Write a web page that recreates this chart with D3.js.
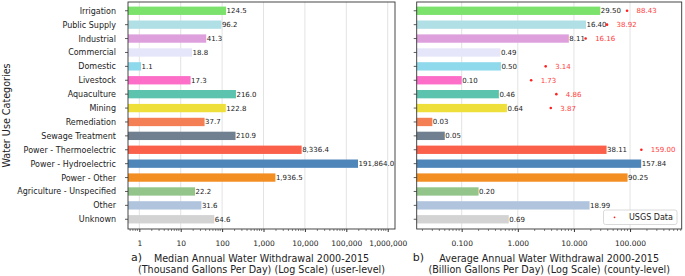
<!DOCTYPE html>
<html>
<head>
<meta charset="utf-8">
<script src="https://cdn.jsdelivr.net/npm/d3@7"></script>
<style>
  body { margin: 0; background: #fff; }
  svg { display: block; font-family: "DejaVu Sans", sans-serif; }
</style>
</head>
<body>
<svg id="main" width="685" height="276"></svg>
<script>
// chart data
const categories = ['Irrigation', 'Public Supply', 'Industrial', 'Commercial', 'Domestic', 'Livestock',
  'Aquaculture', 'Mining', 'Remediation', 'Sewage Treatment', 'Power - Thermoelectric',
  'Power - Hydroelectric', 'Power - Other', 'Agriculture - Unspecified', 'Other', 'Unknown'];
const medianUser = [124.5, 96.2, 41.3, 18.8, 1.1, 17.3, 216.0, 122.8, 37.7, 210.9, 8336.4, 191864.0, 1936.5, 22.2, 31.6, 64.6];
const avgCounty = [29.50, 16.40, 8.11, 0.49, 0.50, 0.10, 0.46, 0.64, 0.03, 0.05, 38.11, 157.84, 90.25, 0.20, 18.99, 0.69];
const usgsData = [88.43, 38.92, 16.16, null, 3.14, 1.73, 4.86, 3.87, null, null, 159.00, null, null, null, null, null];
const leftTicks = [1, 10, 100, 1000, 10000, 100000, 1000000];
const rightTicks = [0.1, 1, 10, 100];

// bar colours, one per category
const colors = ['#7be26c', '#b0e0e6', '#dda0dd', '#e6e6fa', '#8fd9ec', '#fc6ec8',
  '#5cc4ae', '#eedf3a', '#f47f55', '#708090', '#fa604a',
  '#4f86ba', '#f28e22', '#93c58b', '#b0c4de', '#d3d3d3'];

const svg = d3.select('#main');
const plotTop = 2, plotBottom = 229;

// rows: index -> y
let y = d3.scaleLinear().domain([-0.63, 15.7]).range([plotTop, plotBottom]);
const rowStep = y(1) - y(0);
const barH = rowStep * 0.6;

function panel(opts) {
  let g = svg.append('g');
  let x = d3.scaleLog().domain(opts.domain).range([opts.x0, opts.x1]);

  // grid
  g.selectAll('.grid').data(opts.ticks).join('line')
    .attr('x1', d => x(d)).attr('x2', d => x(d))
    .attr('y1', plotTop).attr('y2', plotBottom)
    .style('stroke', '#e3e3e3').style('stroke-width', 1);

  // bars
  g.selectAll('.bar').data(opts.values).join('rect')
    .attr('x', opts.x0)
    .attr('y', (d, i) => y(i) - barH / 2)
    .attr('width', d => x(d) - opts.x0)
    .attr('height', barH)
    .style('fill', (d, i) => colors[i]);

  // bar labels
  g.selectAll('.val').data(opts.values).join('text')
    .attr('x', d => x(d) + 0.5)
    .attr('y', (d, i) => y(i) + 2.5)
    .style('font-size', '7px')
    .style('fill', '#222')
    .text(opts.fmt);

  // y ticks
  g.selectAll('.yt').data(categories).join('line')
    .attr('x1', opts.x0 - 3).attr('x2', opts.x0)
    .attr('y1', (d, i) => y(i)).attr('y2', (d, i) => y(i))
    .style('stroke', '#333').style('stroke-width', 0.8);

  // x axis major
  let axis = g.append('g').attr('transform', `translate(0,${plotBottom})`)
    .call(d3.axisBottom(x).tickValues(opts.ticks).tickFormat(opts.tickFmt).tickSize(3).tickPadding(9).tickSizeOuter(0));
  axis.select('.domain').remove();
  axis.selectAll('line').style('stroke', '#333');
  axis.selectAll('text').style('font-size', '7.5px').style('fill', '#222')
    .style('font-family', '"DejaVu Sans", sans-serif');

  // minor ticks
  let minor = [];
  let lo = Math.floor(Math.log10(opts.domain[0])), hi = Math.ceil(Math.log10(opts.domain[1]));
  for (let e = lo; e < hi; e++) {
    for (let m = 2; m < 10; m++) {
      let v = m * Math.pow(10, e);
      if (v > opts.domain[0] && v < opts.domain[1]) minor.push(v);
    }
  }
  g.selectAll('.minor').data(minor).join('line')
    .attr('x1', d => x(d)).attr('x2', d => x(d))
    .attr('y1', plotBottom).attr('y2', plotBottom + 2)
    .style('stroke', '#333').style('stroke-width', 0.6);

  // frame
  g.append('rect')
    .attr('x', opts.x0).attr('y', plotTop)
    .attr('width', opts.x1 - opts.x0).attr('height', plotBottom - plotTop)
    .style('fill', 'none').style('stroke', '#333').style('stroke-width', 0.9);

  // titles
  let cx = (opts.x0 + opts.x1) / 2;
  g.append('text').attr('x', opts.x0 + opts.tagDx).attr('y', 261)
    .style('font-size', '11px').style('fill', '#222').text(opts.tag);
  g.append('text').attr('x', cx).attr('y', 262).attr('text-anchor', 'middle')
    .style('font-size', '9.6px').style('fill', '#222').text(opts.title1);
  g.append('text').attr('x', cx).attr('y', 272.5).attr('text-anchor', 'middle')
    .style('font-size', '9.6px').style('fill', '#222').text(opts.title2);

  return { g, x };
}

let left = panel({
  x0: 128, x1: 395, domain: [0.533, 1.5e6], values: medianUser, ticks: leftTicks,
  fmt: d3.format(',.1f'), tickFmt: d3.format(','), tag: 'a)', tagDx: 3,
  title1: 'Median Annual Water Withdrawal 2000-2015',
  title2: '(Thousand Gallons Per Day) (Log Scale) (user-level)'
});

let right = panel({
  x0: 416.7, x1: 681.7, domain: [0.0158, 832], values: avgCounty, ticks: rightTicks,
  fmt: d3.format('.2f'), tickFmt: d3.format('.3f'), tag: 'b)', tagDx: -4,
  title1: 'Average Annual Water Withdrawal 2000-2015',
  title2: '(Billion Gallons Per Day) (Log Scale) (county-level)'
});

// category labels
svg.append('g').selectAll('text').data(categories).join('text')
  .attr('x', 116)
  .attr('y', (d, i) => y(i) + 3)
  .attr('text-anchor', 'end')
  .style('font-size', '8px')
  .style('fill', '#222')
  .text(d => d);

// y title
svg.append('text')
  .attr('transform', `translate(9.5,${(plotTop + plotBottom) / 2}) rotate(-90)`)
  .attr('text-anchor', 'middle')
  .style('font-size', '9.6px')
  .style('fill', '#222')
  .text('Water Use Categories');

// USGS points
let usgs = usgsData.map((v, i) => ({ v, i })).filter(d => d.v != null);
right.g.selectAll('.usgs').data(usgs).join('circle')
  .attr('cx', d => right.x(d.v))
  .attr('cy', d => y(d.i))
  .attr('r', 1.3)
  .style('fill', '#ff2020');
right.g.selectAll('.usgsLab').data(usgs).join('text')
  .attr('x', d => right.x(d.v) + 9.5)
  .attr('y', d => y(d.i) + 2.5)
  .style('font-size', '7px')
  .style('fill', '#ff4040')
  .text(d => d3.format('.2f')(d.v));

// legend
let lg = svg.append('g');
lg.append('rect').attr('x', 603.5).attr('y', 210).attr('width', 73.5).attr('height', 14.5)
  .attr('rx', 2).style('fill', 'white').style('stroke', '#d0d0d0').style('stroke-width', 0.8);
lg.append('circle').attr('cx', 614.5).attr('cy', 217.3).attr('r', 0.9).style('fill', '#ff2020');
lg.append('text').attr('x', 629).attr('y', 220.3).style('font-size', '8px').style('fill', '#222').text('USGS Data');
</script>
</body>
</html>
